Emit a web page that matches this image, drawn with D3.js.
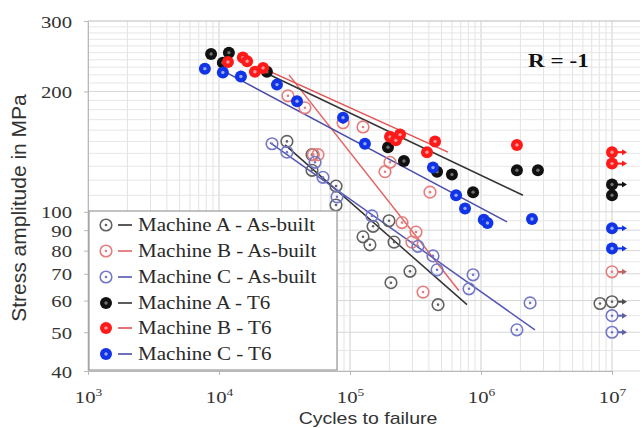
<!DOCTYPE html>
<html>
<head>
<meta charset="utf-8">
<script src="https://cdn.jsdelivr.net/npm/d3@7"></script>
<style>
  body { margin: 0; background: #fff; }
  svg { display: block; }
</style>
</head>
<body>
<div id="chart"></div>
<script>
// points are [cycles, stress amplitude (MPa), runout flag]
const machineA_asBuilt = [
  [33000, 150], [51300, 139], [51300, 127], [78200, 116], [78200, 104],
  [150000, 92], [198500, 95], [125700, 86.6], [142000, 82.7], [217000, 84],
  [287000, 71], [205500, 66.5], [470000, 58.6], [8.1e6, 59], [1e7, 59.6, 1]
];
const machineB_asBuilt = [
  [33600, 195], [45300, 182], [88500, 167], [125700, 163], [52500, 139],
  [57000, 139], [202000, 133], [185000, 126], [408000, 112], [249500, 94],
  [319000, 89], [297000, 84], [361000, 63], [1e7, 70.8, 1]
];
const machineC_asBuilt = [
  [25400, 148], [33000, 141], [54100, 133], [62200, 122], [79600, 109],
  [147000, 97.7], [330000, 82], [430000, 77.6], [462000, 71.6], [870000, 69.6],
  [810000, 64.2], [2.37e6, 59.2], [1.88e6, 50.7], [1e7, 55, 1], [1e7, 50, 1]
];
const machineA_T6 = [
  [8700, 248], [11900, 250], [10700, 236], [23200, 224], [195000, 145],
  [258000, 134], [462000, 126], [600000, 124], [870000, 112], [1.88e6, 127],
  [2.72e6, 127], [1e7, 117, 1], [1e7, 110]
];
const machineB_T6 = [
  [11700, 237], [15200, 243], [16400, 238], [18800, 224], [21700, 229],
  [202000, 154], [224000, 151], [241000, 156], [387000, 141], [446000, 150],
  [1.88e6, 147], [1e7, 141, 1], [1e7, 132, 1]
];
const machineC_T6 = [
  [7800, 228], [10700, 223], [14700, 218], [27700, 208], [39400, 189],
  [88500, 172], [130000, 148], [430000, 129], [645000, 110], [755000, 102],
  [1.05e6, 95.5], [1.12e6, 93.8], [2.45e6, 96], [1e7, 91, 1], [1e7, 81, 1]
];

// Basquin fit lines, [start, end]
const fitA_asBuilt = [[31900, 147], [782000, 58.6]];
const fitB_asBuilt = [[34200, 220], [679000, 63.5]];
const fitC_asBuilt = [[24500, 149], [2.58e6, 50.7]];
const fitA_T6 = [[20600, 226], [2.09e6, 110]];
const fitB_T6 = [[21300, 229], [560000, 141]];
const fitC_T6 = [[10500, 226], [1.58e6, 94.4]];

const seriesNames = [
  "Machine A - As-built", "Machine B - As-built", "Machine C - As-built",
  "Machine A - T6", "Machine B - T6", "Machine C - T6"
];
const xTicks = [1e3, 1e4, 1e5, 1e6, 1e7];
const yTicks = [40, 50, 60, 70, 80, 90, 100, 200, 300];

const series = [
  {name: seriesNames[0], pts: machineA_asBuilt, fit: fitA_asBuilt, filled: false, color: "#626262", line: "#333333"},
  {name: seriesNames[1], pts: machineB_asBuilt, fit: fitB_asBuilt, filled: false, color: "#e77c7c", line: "#e36464"},
  {name: seriesNames[2], pts: machineC_asBuilt, fit: fitC_asBuilt, filled: false, color: "#7478c8", line: "#5558b4"},
  {name: seriesNames[3], pts: machineA_T6, fit: fitA_T6, filled: true, color: "#111111", dot: "#707070", line: "#333333"},
  {name: seriesNames[4], pts: machineB_T6, fit: fitB_T6, filled: true, color: "#ff1a1a", dot: "#ff9a9a", line: "#e35050"},
  {name: seriesNames[5], pts: machineC_T6, fit: fitC_T6, filled: true, color: "#1034e6", dot: "#9aaaff", line: "#4a4ca8"}
];

const width = 642, height = 428;
const plotLeft = 88, plotRight = 640, plotTop = 21, plotBottom = 371;
const SX = 1.22; // horizontal stretch of the text in the picture

const x = d3.scaleLog().domain([1e3, 1e7]).range([plotLeft, 612]);
const y = d3.scaleLog().domain([40, 300]).range([plotBottom, plotTop]);

const svg = d3.select("#chart").append("svg")
  .attr("width", width).attr("height", height)
  .attr("viewBox", [0, 0, width, height]);

// grid
const xGrid = d3.scaleLog().domain([1e3, x.invert(plotRight)]).ticks().filter(v => x(v) <= plotRight);
const yGrid = d3.range(40, 100, 5).concat(d3.range(100, 301, 10));
const grid = svg.append("g");
grid.selectAll(".gx").data(xGrid).join("line")
  .attr("x1", d => x(d)).attr("x2", d => x(d))
  .attr("y1", plotTop).attr("y2", plotBottom)
  .attr("stroke", d => xTicks.includes(d) ? "#cfcfcf" : "#e3e3e3");
grid.selectAll(".gy").data(yGrid).join("line")
  .attr("x1", plotLeft).attr("x2", plotRight)
  .attr("y1", d => y(d)).attr("y2", d => y(d))
  .attr("stroke", d => yTicks.includes(d) ? "#d6d6d6" : "#e6e6e6");
grid.append("line").attr("x1", plotLeft).attr("x2", plotRight).attr("y1", plotTop).attr("y2", plotTop).attr("stroke", "#cfcfcf");

// axes
const serif = "'Liberation Serif', 'Times New Roman', serif";
const sans = "'Liberation Sans', Arial, sans-serif";

const gy = svg.append("g")
  .attr("transform", `translate(${plotLeft},0)`)
  .call(d3.axisLeft(y).tickValues(yTicks).tickFormat(d3.format("d")).tickSize(4).tickSizeOuter(0));
gy.select(".domain").attr("stroke", "#b8b8b8");
gy.selectAll(".tick line").attr("stroke", "#b8b8b8");
gy.selectAll(".tick text")
  .attr("x", 0).attr("dy", null).attr("y", 0)
  .attr("transform", `translate(-16,6) scale(${SX},1)`)
  .attr("font-family", serif).attr("font-size", 17).attr("fill", "#333");

const gx = svg.append("g")
  .attr("transform", `translate(0,${plotBottom})`)
  .call(d3.axisBottom(x).tickValues(xTicks).tickSize(4).tickSizeOuter(0));
gx.select(".domain").attr("stroke", "#b8b8b8");
gx.selectAll(".tick line").attr("stroke", "#b8b8b8");
gx.selectAll(".tick text")
  .attr("y", 0).attr("dy", null)
  .attr("transform", `translate(0,32) scale(${SX},1)`)
  .attr("font-family", serif).attr("font-size", 17).attr("fill", "#333")
  .each(function(d) {
    const t = d3.select(this);
    t.text("10");
    t.append("tspan").attr("dy", -7).attr("font-size", 11).text(Math.round(Math.log10(d)));
  });

svg.append("text")
  .attr("transform", `translate(368,424) scale(${SX},1)`)
  .attr("text-anchor", "middle")
  .attr("font-family", sans).attr("font-size", 16).attr("fill", "#333")
  .text("Cycles to failure");

svg.append("text")
  .attr("transform", "translate(26,208) rotate(-90)")
  .attr("text-anchor", "middle")
  .attr("font-family", sans).attr("font-size", 21).attr("fill", "#333")
  .text("Stress amplitude in MPa");

svg.append("text")
  .attr("transform", `translate(528,67) scale(${SX},1)`)
  .attr("font-family", serif).attr("font-size", 19).attr("font-weight", "bold").attr("fill", "#111")
  .text("R = -1");

// fit lines
const line = d3.line().x(d => x(d[0])).y(d => y(d[1]));
svg.append("g").selectAll("path").data(series).join("path")
  .attr("d", s => line(s.fit))
  .attr("fill", "none").attr("stroke", s => s.line).attr("stroke-width", 1.5);

// markers
function marker(g, s) {
  if (s.filled) {
    g.append("circle").attr("r", 6).attr("fill", s.color);
    g.append("circle").attr("r", 1.7).attr("fill", s.dot);
  } else {
    g.append("circle").attr("r", 5.8).attr("fill", "none").attr("stroke", s.color).attr("stroke-width", 1.6);
    g.append("circle").attr("r", 1.3).attr("fill", s.color);
  }
}

series.forEach(s => {
  const g = svg.append("g");
  s.pts.forEach(p => {
    const m = g.append("g").attr("transform", `translate(${x(p[0])},${y(p[1])})`);
    if (p[2]) {
      const ac = s.filled ? s.color : d3.color(s.color).darker(0.6);
      m.append("line").attr("x1", 5).attr("x2", 11).attr("y1", 0).attr("y2", 0)
        .attr("stroke", ac).attr("stroke-width", 2);
      m.append("path").attr("d", "M10,-3L15,0L10,3Z").attr("fill", ac);
    }
    marker(m, s);
  });
});

// legend
const legendRows = [225, 251, 277, 303, 328, 354];
const legend = svg.append("g");
legend.append("rect")
  .attr("x", 89).attr("y", 211).attr("width", 248).attr("height", 159)
  .attr("fill", "#fff").attr("stroke", "#9a9a9a").attr("stroke-width", 1.2);
series.forEach((s, i) => {
  const ly = legendRows[i];
  const m = legend.append("g").attr("transform", `translate(106,${ly})`);
  marker(m, s);
  legend.append("line").attr("x1", 118).attr("x2", 132).attr("y1", ly).attr("y2", ly)
    .attr("stroke", s.line).attr("stroke-width", 1.6);
  legend.append("text")
    .attr("transform", `translate(138,${ly + 6}) scale(${SX - 0.05},1)`)
    .attr("font-family", serif).attr("font-size", 18).attr("fill", "#2a2a2a")
    .text(s.name);
});
</script>
</body>
</html>
